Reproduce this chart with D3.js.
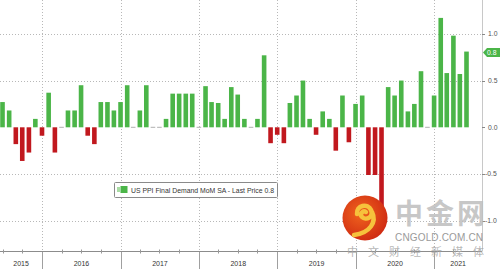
<!DOCTYPE html>
<html>
<head>
<meta charset="utf-8">
<script src="https://cdn.jsdelivr.net/npm/d3@7"></script>
<style>
  html, body { margin: 0; padding: 0; background: #fff; overflow: hidden; }
  svg { display: block; }
</style>
</head>
<body>
<div id="chart"></div>
<script>
// monthly PPI final demand MoM, Jun 2015 .. May 2021
var months = [
    '2015-06', '2015-07', '2015-08', '2015-09', '2015-10', '2015-11', '2015-12',
    '2016-01', '2016-02', '2016-03', '2016-04', '2016-05', '2016-06',
    '2016-07', '2016-08', '2016-09', '2016-10', '2016-11', '2016-12',
    '2017-01', '2017-02', '2017-03', '2017-04', '2017-05', '2017-06',
    '2017-07', '2017-08', '2017-09', '2017-10', '2017-11', '2017-12',
    '2018-01', '2018-02', '2018-03', '2018-04', '2018-05', '2018-06',
    '2018-07', '2018-08', '2018-09', '2018-10', '2018-11', '2018-12',
    '2019-01', '2019-02', '2019-03', '2019-04', '2019-05', '2019-06',
    '2019-07', '2019-08', '2019-09', '2019-10', '2019-11', '2019-12',
    '2020-01', '2020-02', '2020-03', '2020-04', '2020-05', '2020-06',
    '2020-07', '2020-08', '2020-09', '2020-10', '2020-11', '2020-12',
    '2021-01', '2021-02', '2021-03', '2021-04', '2021-05'
];
var values = [
    0.27, 0.18, -0.18, -0.36, -0.27, 0.09, -0.09,
    0.37, -0.27, 0, 0.18, 0.18, 0.45,
    -0.09, -0.18, 0.27, 0.27, 0.18, 0.27,
    0.45, 0, 0.18, 0.45, 0, 0,
    0.09, 0.36, 0.36, 0.36, 0.36, 0,
    0.44, 0.27, 0.26, 0.09, 0.43, 0.35,
    0.09, 0, 0.09, 0.77, -0.17, -0.08,
    -0.17, 0.26, 0.34, 0.5, 0.09, -0.08,
    0.17, 0.09, -0.25, 0.34, -0.16, 0.25,
    0.34, -0.51, -0.51, -1.1, 0.43, 0.34,
    0.5, 0.17, 0.25, 0.6, 0, 0.34,
    1.17, 0.58, 0.98, 0.57, 0.81
];
var years = [2015, 2016, 2017, 2018, 2019, 2020, 2021];
var yTicks = [1.0, 0.5, 0.0, -0.5, -1.0];
var lastPrice = 0.8;
var legendLabel = 'US PPI Final Demand MoM SA - Last Price 0.8';

var width = 500,
    height = 269,
    plotRight = 482,
    axisY = 251.5,
    barW = 4.6,
    GREEN = '#4bb548',
    RED = '#c1181e',
    parseMonth = d3.utcParse('%Y-%m'),
    svg = d3.select('#chart').append('svg')
        .attr('width', width)
        .attr('height', height);

function monthEnd(s) {
    return d3.utcDay.offset(d3.utcMonth.offset(parseMonth(s), 1), -1);
}

var x = d3.scaleUtc()
    .domain([new Date(Date.UTC(2015, 11, 31)), new Date(Date.UTC(2021, 4, 31))])
    .range([42, 466.5]);
var y = d3.scaleLinear()
    .domain([-1, 1])
    .range([220.8, 33.8]);

var bars = months.map(function(m, i) {
    return { date: monthEnd(m), value: values[i] };
});

// horizontal dotted grid
svg.append('g')
    .selectAll('line')
    .data(yTicks.filter(function(d) { return d !== 0; }))
    .enter()
    .append('line')
    .attr('x1', 0)
    .attr('x2', plotRight)
    .attr('y1', function(d) { return Math.round(y(d)) + 0.5; })
    .attr('y2', function(d) { return Math.round(y(d)) + 0.5; })
    .style('stroke', '#b8b8b8')
    .style('stroke-dasharray', '1,2');

// year separators
var yearStarts = years.slice(1).map(function(yr) { return new Date(Date.UTC(yr, 0, 1)); });
svg.append('g')
    .selectAll('line')
    .data(yearStarts)
    .enter()
    .append('line')
    .attr('x1', function(d) { return Math.round(x(d)) + 0.5; })
    .attr('x2', function(d) { return Math.round(x(d)) + 0.5; })
    .attr('y1', 0)
    .attr('y2', axisY)
    .style('stroke', '#b8b8b8')
    .style('stroke-dasharray', '1,2');
svg.append('g')
    .selectAll('line')
    .data(yearStarts)
    .enter()
    .append('line')
    .attr('x1', function(d) { return Math.round(x(d)) + 0.5; })
    .attr('x2', function(d) { return Math.round(x(d)) + 0.5; })
    .attr('y1', axisY)
    .attr('y2', height)
    .style('stroke', '#a0a0a0');

// bars
svg.append('g')
    .selectAll('rect')
    .data(bars)
    .enter()
    .append('rect')
    .attr('x', function(d) { return x(d.date) - barW / 2; })
    .attr('width', barW)
    .attr('y', function(d) { return d.value === 0 ? y(0) - 0.5 : Math.min(y(0), y(d.value)); })
    .attr('height', function(d) { return d.value === 0 ? 1 : Math.abs(y(d.value) - y(0)); })
    .style('fill', function(d) {
        if (d.value === 0) return '#b0b0b0';
        return d.value > 0 ? GREEN : RED;
    });

// bottom axis
svg.append('line')
    .attr('x1', 0)
    .attr('x2', plotRight)
    .attr('y1', axisY)
    .attr('y2', axisY)
    .style('stroke', '#8c8c8c');

var quarterEnds = d3.utcMonths(new Date(Date.UTC(2015, 3, 1)), new Date(Date.UTC(2021, 6, 1)), 3)
    .filter(function(d) { return d.getUTCMonth() !== 0; })
    .map(function(d) { return d3.utcDay.offset(d, -1); })
    .filter(function(d) { return x(d) >= 0 && x(d) < plotRight; });
svg.append('g')
    .selectAll('line')
    .data(quarterEnds)
    .enter()
    .append('line')
    .attr('x1', function(d) { return Math.round(x(d)) + 0.5; })
    .attr('x2', function(d) { return Math.round(x(d)) + 0.5; })
    .attr('y1', axisY - 2)
    .attr('y2', axisY + 2)
    .style('stroke', '#999');

svg.append('g')
    .selectAll('text')
    .data(years)
    .enter()
    .append('text')
    .attr('x', function(yr) {
        var a = Math.max(0, x(new Date(Date.UTC(yr, 0, 1)))),
            b = Math.min(plotRight, x(new Date(Date.UTC(yr + 1, 0, 1))));
        return (a + b) / 2;
    })
    .attr('y', 266)
    .attr('text-anchor', 'middle')
    .style('font-family', 'Liberation Sans, Arial, sans-serif')
    .style('font-size', '7px')
    .style('fill', '#333')
    .text(function(d) { return d; });

// right axis
svg.append('line')
    .attr('x1', plotRight + 0.5)
    .attr('x2', plotRight + 0.5)
    .attr('y1', 0)
    .attr('y2', axisY)
    .style('stroke', '#c8c8c8');
var yAxis = svg.append('g')
    .selectAll('g')
    .data(yTicks)
    .enter()
    .append('g');
yAxis.append('line')
    .attr('x1', plotRight)
    .attr('x2', plotRight + 3)
    .attr('y1', function(d) { return Math.round(y(d)) + 0.5; })
    .attr('y2', function(d) { return Math.round(y(d)) + 0.5; })
    .style('stroke', '#888');
yAxis.append('text')
    .attr('x', function(d) { return d < 0 ? 485 : 488; })
    .attr('y', function(d) { return y(d) + 2.3; })
    .style('font-family', 'Liberation Sans, Arial, sans-serif')
    .style('font-size', '6.8px')
    .style('fill', '#555')
    .text(function(d) { return d3.format('.1f')(d).replace('−', '-'); });

// last price tag
var py = y(lastPrice);
svg.append('path')
    .attr('d', 'M' + (plotRight + 1) + ',' + py +
        'L' + (plotRight + 5) + ',' + (py - 4.5) +
        'L' + width + ',' + (py - 4.5) +
        'L' + width + ',' + (py + 4.5) +
        'L' + (plotRight + 5) + ',' + (py + 4.5) + 'Z')
    .style('fill', GREEN);
svg.append('text')
    .attr('x', 487)
    .attr('y', py + 2.4)
    .style('font-family', 'Liberation Sans, Arial, sans-serif')
    .style('font-size', '6.8px')
    .style('fill', '#fff')
    .text(d3.format('.1f')(lastPrice));

// legend
var legend = svg.append('g');
legend.append('rect')
    .attr('x', 114.5)
    .attr('y', 182.5)
    .attr('width', 163)
    .attr('height', 15)
    .attr('rx', 1)
    .style('fill', '#fff')
    .style('stroke', '#8a8a8a');
legend.append('rect')
    .attr('x', 117)
    .attr('y', 187)
    .attr('width', 3)
    .attr('height', 5)
    .style('fill', '#a9dca4');
legend.append('rect')
    .attr('x', 120.5)
    .attr('y', 186)
    .attr('width', 7)
    .attr('height', 7)
    .style('fill', GREEN);
legend.append('text')
    .attr('x', 131)
    .attr('y', 193)
    .attr('textLength', 143)
    .attr('lengthAdjust', 'spacingAndGlyphs')
    .style('font-family', 'Liberation Sans, Arial, sans-serif')
    .style('font-size', '7.6px')
    .style('fill', '#333')
    .text(legendLabel);

// cngold watermark
var defs = svg.append('defs');
var grad = defs.append('radialGradient')
    .attr('id', 'logoGrad')
    .attr('cx', '40%')
    .attr('cy', '40%')
    .attr('r', '65%');
grad.append('stop').attr('offset', '0%').attr('stop-color', '#f0641e');
grad.append('stop').attr('offset', '100%').attr('stop-color', '#cf2a12');

var wm = svg.append('g');
wm.append('circle')
    .attr('cx', 365)
    .attr('cy', 218)
    .attr('r', 22.5)
    .style('fill', 'url(#logoGrad)');
wm.append('path')
    .attr('d', 'M357,214 C356,205 368,203 371,210 C374,217 366,221 362,217 C359,214 363,210 366,212 ' +
        'M372,212 C377,222 370,233 354,235')
    .style('fill', 'none')
    .style('stroke', '#f6c23c')
    .style('stroke-width', 4.5)
    .style('stroke-linecap', 'round');
wm.append('text')
    .attr('x', 395)
    .attr('y', 224)
    .attr('textLength', 90)
    .style('font-family', 'Noto Sans CJK SC, sans-serif')
    .style('font-weight', 'bold')
    .style('font-size', '28px')
    .style('fill', '#bdbdbd')
    .style('fill-opacity', 0.85)
    .text('中金网');
wm.append('text')
    .attr('x', 395)
    .attr('y', 241)
    .attr('textLength', 88)
    .style('font-family', 'Liberation Sans, Arial, sans-serif')
    .style('font-size', '10px')
    .style('fill', '#9a9a9a')
    .text('CNGOLD.COM.CN');
wm.append('text')
    .attr('x', 347)
    .attr('y', 256)
    .attr('textLength', 137)
    .style('font-family', 'Noto Sans CJK SC, sans-serif')
    .style('font-size', '11px')
    .style('fill', '#a8a8a8')
    .style('fill-opacity', 0.85)
    .text('中文财经新媒体');
</script>
</body>
</html>
